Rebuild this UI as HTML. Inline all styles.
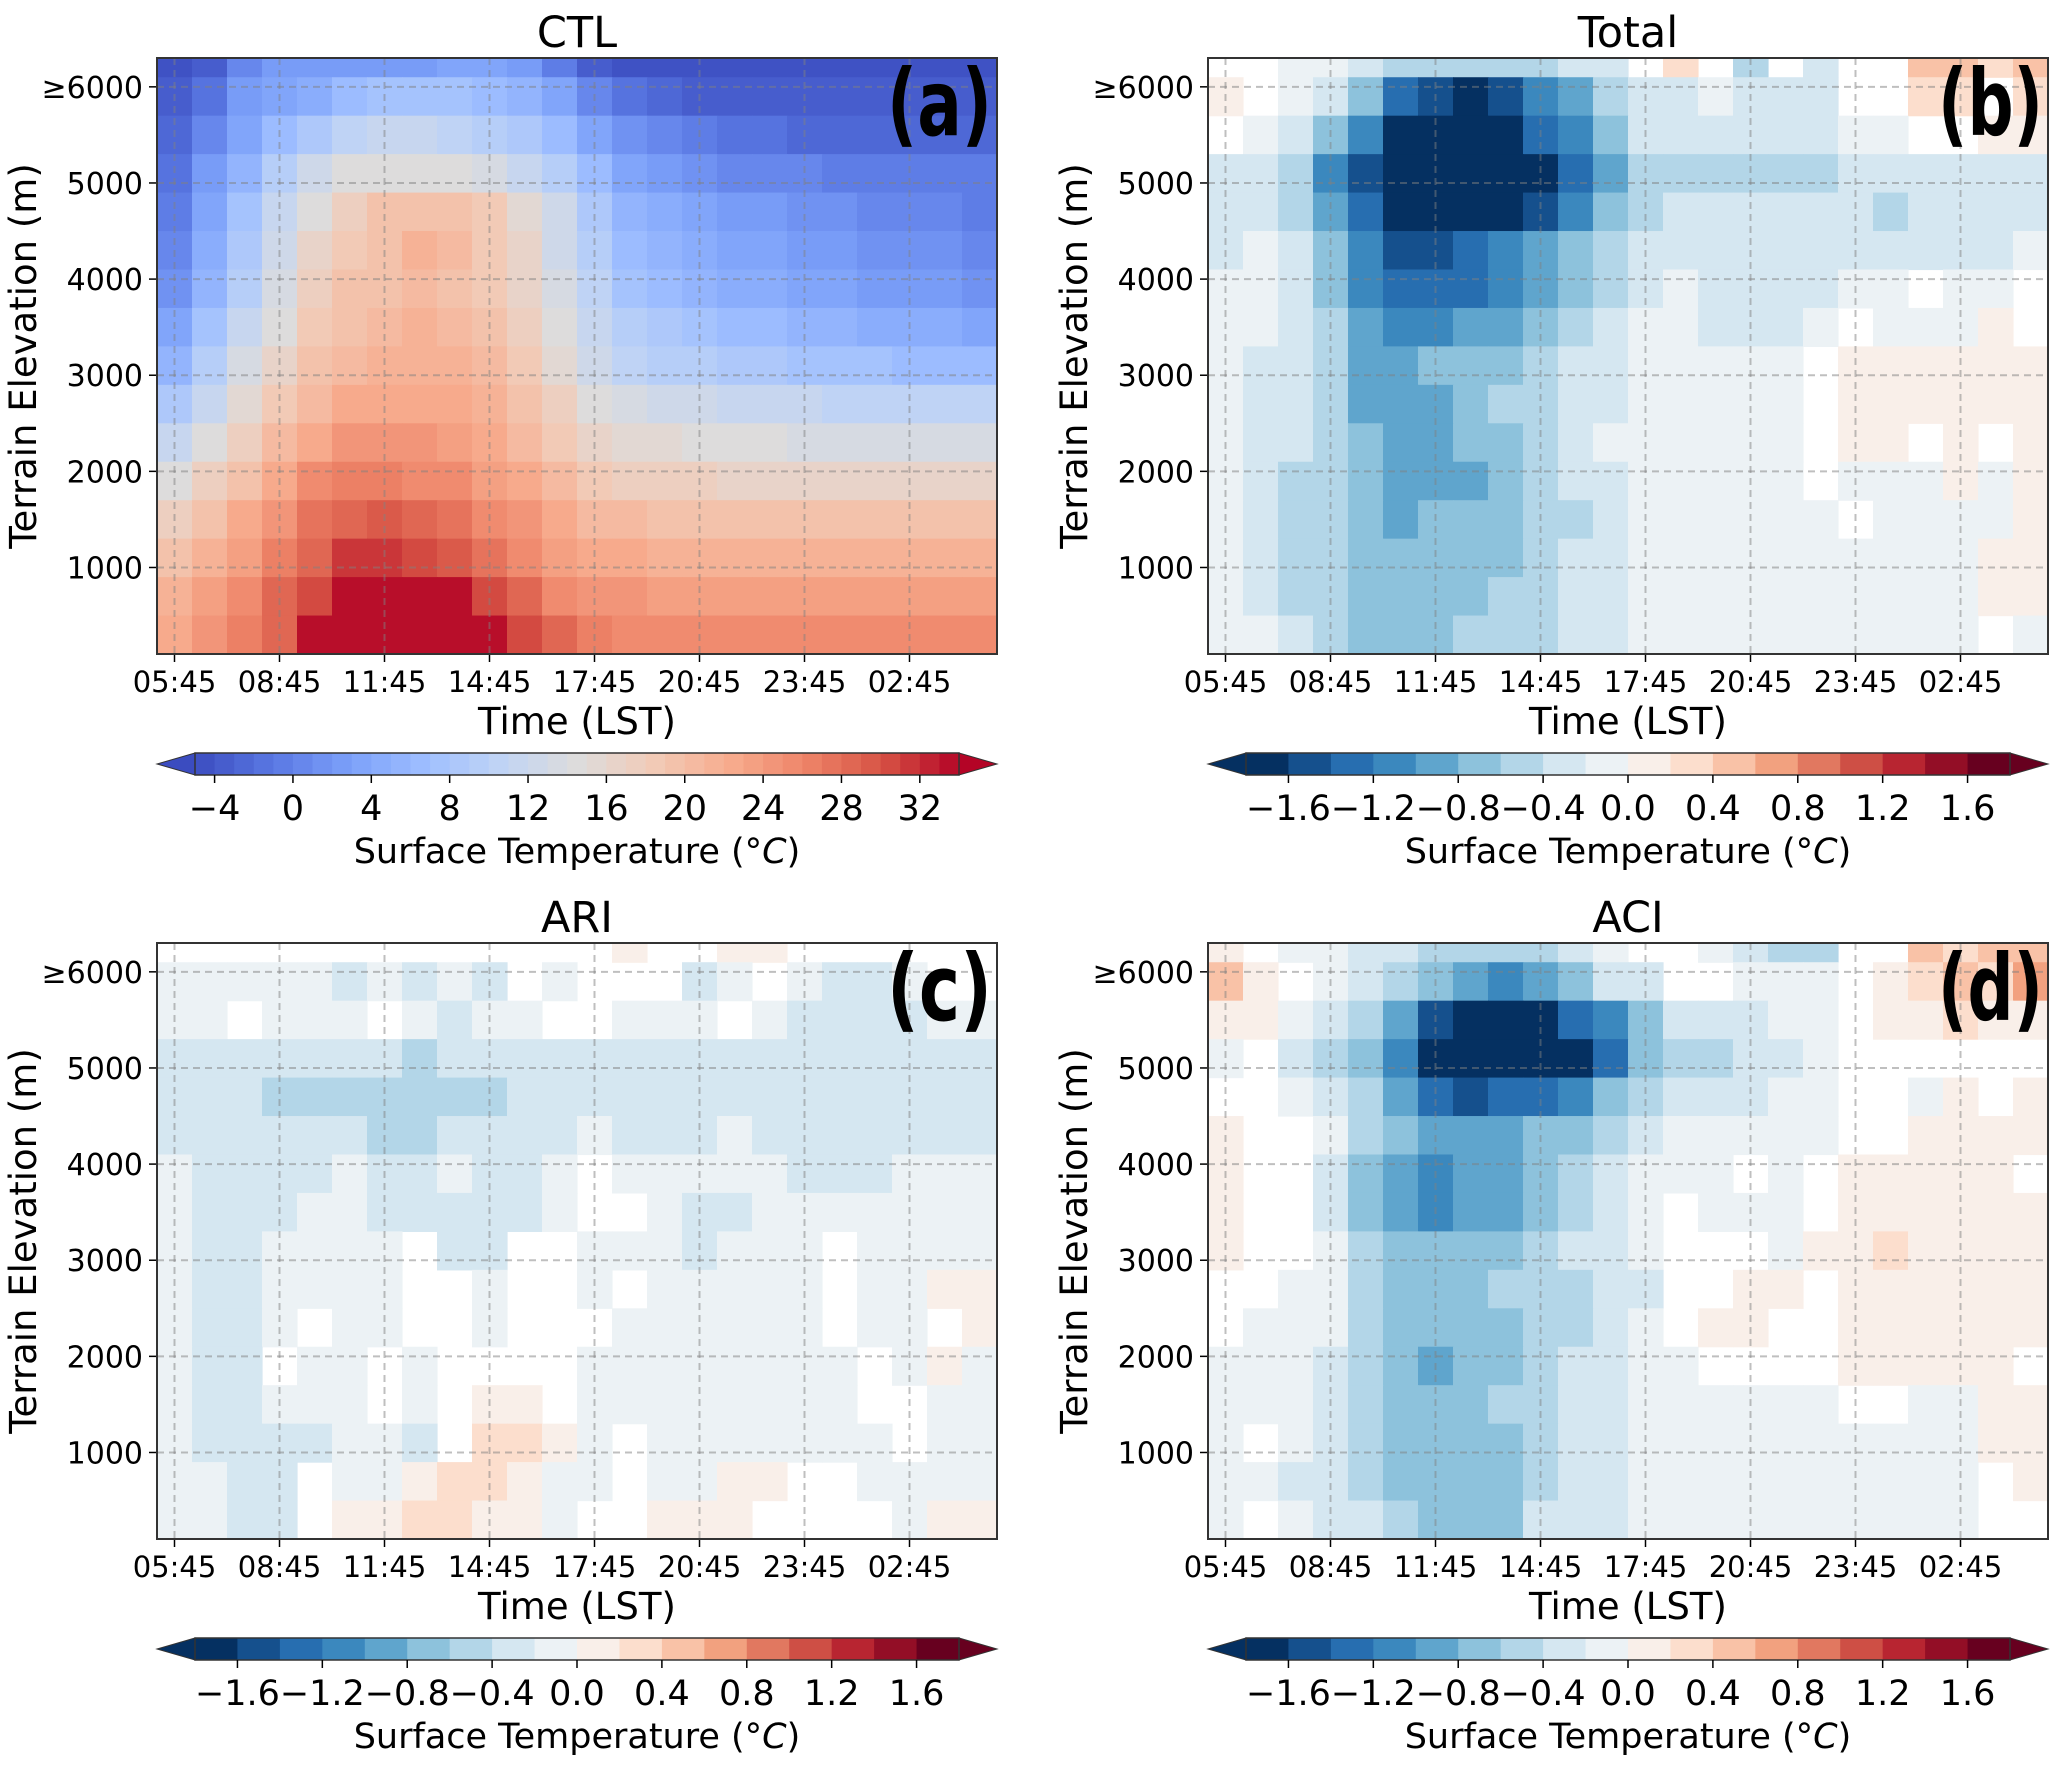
<!DOCTYPE html>
<html><head><meta charset="utf-8"><style>
html,body{margin:0;padding:0;background:#fff;}
svg{display:block;}
text{font-family:"DejaVu Sans","Liberation Sans",sans-serif;fill:#000;}
</style></head><body>
<svg id="fig" width="2067" height="1768" viewBox="0 0 2067 1768" xmlns="http://www.w3.org/2000/svg"></svg>
<script>
// ---------- data ----------
const timeLabels = ["05:45","08:45","11:45","14:45","17:45","20:45","23:45","02:45"];
const elevTicks = [1000,2000,3000,4000,5000,6000];
// row groups (top to bottom), centre elevations in m; each group spans 400 m (top one 200 m)
const rowCenters = [6200,5900,5500,5100,4700,4300,3900,3500,3100,2700,2300,1900,1500,1100,700,300];
// CTL surface temperature (°C), 24 hourly columns starting 05:45
const ctlRows = [
[-5,-4,0,2,2,2,2,2,3,3,2,-1,-4,-5,-5,-5,-5,-5,-5,-5,-5,-5,-5,-5],
[-4,-2,2,3,4,6,7,7,7,6,5,3,0,-2,-3,-4,-4,-4,-4,-4,-4,-4,-4,-4],
[-3,0,3,6,8,10,11,11,10,9,8,6,3,1,0,-1,-2,-2,-3,-3,-3,-3,-3,-3],
[-2,2,5,9,12,14,14,14,14,13,11,9,6,3,2,1,0,0,0,-1,-1,-1,-1,-1],
[-1,3,7,11,14,17,19,19,19,18,15,12,8,5,4,3,2,2,1,1,0,0,0,-1],
[0,4,8,12,16,18,19,21,20,18,16,12,9,6,5,4,3,3,2,2,1,1,1,0],
[1,5,9,13,17,19,19,20,19,18,16,13,10,7,6,5,4,4,3,3,2,2,2,1],
[3,7,11,14,18,19,20,21,20,19,17,14,11,9,8,7,6,6,5,5,4,4,4,3],
[5,9,13,16,19,20,21,21,21,20,18,15,12,10,9,9,8,8,7,7,7,6,6,6],
[8,11,15,18,20,22,22,22,22,21,19,17,14,13,12,12,11,11,11,10,10,10,10,10],
[11,14,17,20,22,24,24,24,23,22,20,18,16,15,15,14,14,14,13,13,13,13,13,13],
[14,17,19,22,25,26,26,25,25,23,22,20,18,17,17,17,16,16,16,16,16,16,16,16],
[17,19,22,24,27,28,29,28,27,25,24,22,20,20,19,19,19,19,19,19,19,19,19,19],
[19,21,23,26,28,31,31,30,29,27,25,23,22,22,21,21,21,21,21,21,21,21,21,21],
[21,23,25,28,30,34,34,34,33,30,28,25,24,24,23,23,23,23,23,23,23,23,23,23],
[22,24,26,28,34,34,34,34,34,33,30,28,26,25,25,25,25,25,25,25,25,25,25,25]
];
// difference fields: '.' = blank, '0'..'9' = -(0.1+0.2k) °C, 'a'..'i' = +(0.1+0.2k) °C
const totalRows = [
"..0012222211.b.2.1..ccbc",
"a.0136787542110111..bb.b",
".0135888865311111100..aa",
"112578888864222222111111",
"112468888753211111121111",
"101357765432111111111110",
"00135666543210111100.00.",
"001245544321001110.000a.",
"01124433321100000.aaaaaa",
"01124443221100000.aaaaaa",
"01123443321000000.aa.a.a",
"01223444321100000.000a0a",
"012234333221000000.0000a",
"012233333211000000000 0aa".replace(' ',''),
"012233332211000000000 0aa".replace(' ',''),
"00123332221100000000 00.0".replace(' ','')
];
const ariRows = [
".............a..aa......",
"0000010101.0...10.0110..",
"00.000.0100..000.0111100",
"111111121111111111111111",
"111222222211111111111111",
"111111221111011101111111",
"011110110110.00000111000",
"011100111110..01100000 00.".replace(' ',''),
"0110000.11..0001000.0000",
"0110000..0..0.00000.00aa",
"0110.00..0...000000.00.a",
"011.00.0....00000000.0a0",
"011000.0.aa..00000000..00".replace('..00','.00'),
"01111001.bba0.0000000.00",
"0011.00abba00.00aa..0000",
"0011.aabbaa0..aaa....0aa"
];
const aciRows = [
"a.0011222210..0122..cbcc",
"ca.012345431 1..000.abcbd".replace(' ',''),
"aa012478886531110 0.aabaa".replace(' ',''),
"0.1235888886322110......",
"..0124676653211100..0a.a",
"a..0234443321000 00..aaaa".replace(' ',''),
"a..13454432100 0.0.aaaaa.".replace(' ',''),
"a..134544321 0.000.aaaaaa".replace(' ',''),
"a..0233332110...0aabaaaa",
"..0023332221 1..aa.aaaaaa".replace(' ',''),
".000233332210.aa..aaaaaa",
"00012343321100....aaaaa.",
"000123332211000000..00aa",
"0.0123333211000000000 0aa".replace(' ',''),
"0011233332110000000000.a",
"0.011233311100000000 00..".replace(' ','')
];
const ctlTicks = [-4,0,4,8,12,16,20,24,28,32];
const diffTicks = [-1.6,-1.2,-0.8,-0.4,0.0,0.4,0.8,1.2,1.6];

// ---------- helpers ----------
const NS="http://www.w3.org/2000/svg";
const svg=document.getElementById('fig');
function mk(tag,attrs,parent){const e=document.createElementNS(NS,tag);for(const k in attrs)e.setAttribute(k,attrs[k]);(parent||svg).appendChild(e);return e;}
function hex(h){return [parseInt(h.slice(1,3),16),parseInt(h.slice(3,5),16),parseInt(h.slice(5,7),16)];}
function interp(stops,t){t=Math.max(0,Math.min(1,t));const n=stops.length-1;const p=t*n;const i=Math.min(n-1,Math.floor(p));const f=p-i;const a=hex(stops[i]),b=hex(stops[i+1]);return 'rgb('+a.map((v,j)=>Math.round(v+(b[j]-v)*f)).join(',')+')';}
const coolwarm=["#3b4cc0","#5977e3","#7b9ff9","#9ebeff","#c0d4f5","#dddcdc","#f2cbb7","#f7ac8e","#ee8468","#d65244","#b40426"];
const rdbuR=["#053061","#2166ac","#4393c3","#92c5de","#d1e5f0","#f7f7f7","#fddbc7","#f4a582","#d6604d","#b2182b","#67001f"];
function ctlColor(v){const k=Math.max(0,Math.min(38,Math.floor(v+5)));return interp(coolwarm,(k+0.5)/39);}
function diffColor(v){const k=Math.max(0,Math.min(17,Math.floor((v+1.8)/0.2+1e-9)));return interp(rdbuR,k/17);}
function decode(ch){if(ch===undefined||ch==='.'||ch===' ')return null;const d='0123456789'.indexOf(ch);if(d>=0)return -(0.1+0.2*d);const p='abcdefghi'.indexOf(ch);if(p<0)return null;return 0.1+0.2*p;}
function fmt(v){const s=Math.abs(v).toFixed(1);return (v<0?'\u2212':'')+s;}

const W=840,H=596,NC=24;
function panel(opts){
  const L=opts.x,T=opts.y;
  const g=mk('g',{});
  
  
  const xs=c=>L+c*W/NC;
  const ys=e=>T+(6300-e)/6200*H;
  const cg=mk('g',{},g);
  
  
  opts.rows.forEach((row,r)=>{
    const ec=rowCenters[r];
    const top=ec===6200?6300:ec+200, bot=ec===6200?6100:ec-200;
    for(let c=0;c<NC;c++){
      let v;
      if(typeof row==='string'){v=decode(row[c]);} else v=row[c];
      if(v===null||v===undefined)continue;
      const col=opts.ctl?ctlColor(v):diffColor(v);
      const rc=mk('rect',{x:xs(c).toFixed(2),y:ys(top).toFixed(2),width:(W/NC+0.6).toFixed(2),height:(ys(bot)-ys(top)+0.6).toFixed(2),fill:col},cg);
      
      
    }
  });
  timeLabels.forEach((lab,i)=>{const x=xs(0.5+3*i);
    const gl=mk('line',{x1:x,x2:x,y1:T,y2:T+H,stroke:'rgba(128,128,128,0.5)','stroke-width':2,'stroke-dasharray':'7,5'},g);
    
    mk('line',{x1:x,x2:x,y1:T+H,y2:T+H+8,stroke:'#000','stroke-width':1.5},g);
    const t=mk('text',{x:x,y:T+H+38,'font-size':29,'text-anchor':'middle'},g);t.textContent=lab;
    
  });
  elevTicks.forEach(e=>{const y=ys(e);
    const gl=mk('line',{x1:L,x2:L+W,y1:y,y2:y,stroke:'rgba(128,128,128,0.5)','stroke-width':2,'stroke-dasharray':'7,5'},g);
    
    mk('line',{x1:L-8,x2:L,y1:y,y2:y,stroke:'#000','stroke-width':1.5},g);
    const t=mk('text',{x:L-14,y:y+11,'font-size':30,'text-anchor':'end'},g);t.textContent=(e===6000?'\u2265':'')+e;
    
  });
  mk('rect',{x:L,y:T,width:W,height:H,fill:'none',stroke:'#333','stroke-width':2},g);
  const ti=mk('text',{x:L+W/2,y:T-11,'font-size':43,'text-anchor':'middle'},g);ti.textContent=opts.title;
  
  const lt=mk('text',{x:L+W-110,y:T+77,'font-size':92,'font-weight':'bold',textLength:105,lengthAdjust:'spacingAndGlyphs'},g);lt.textContent=opts.letter;
  
  const xl=mk('text',{x:L+W/2,y:T+H+80,'font-size':37,'text-anchor':'middle'},g);xl.textContent='Time (LST)';
  
  const yx=L-121,yy=T+H/2;
  const yl=mk('text',{x:yx,y:yy,'font-size':37,'text-anchor':'middle',transform:'rotate(-90 '+yx+' '+yy+')'},g);yl.textContent='Terrain Elevation (m)';
  
  const cb=mk('g',{},g);
  
  
  const cy=T+H+99,ch=22,tri=38,r0=L+tri,r1=L+W-tri;
  let vmin,vmax,nb,colorOf,ticks;
  if(opts.ctl){vmin=-5;vmax=34;nb=39;colorOf=k=>interp(coolwarm,(k+0.5)/39);ticks=ctlTicks;}
  else{vmin=-1.8;vmax=1.8;nb=18;colorOf=k=>interp(rdbuR,k/17);ticks=diffTicks;}
  const bw=(r1-r0)/nb;
  for(let k=0;k<nb;k++){mk('rect',{x:(r0+k*bw).toFixed(2),y:cy,width:(bw+0.5).toFixed(2),height:ch,fill:colorOf(k)},cb);}
  mk('polygon',{points:`${r0},${cy} ${L},${cy+ch/2} ${r0},${cy+ch}`,fill:opts.ctl?interp(coolwarm,0):interp(rdbuR,0),stroke:'#333','stroke-width':1},cb);
  mk('polygon',{points:`${r1},${cy} ${L+W},${cy+ch/2} ${r1},${cy+ch}`,fill:opts.ctl?interp(coolwarm,1):interp(rdbuR,1),stroke:'#333','stroke-width':1},cb);
  mk('rect',{x:r0,y:cy,width:r1-r0,height:ch,fill:'none',stroke:'#333','stroke-width':1.5},cb);
  ticks.forEach(v=>{const x=r0+(v-vmin)/(vmax-vmin)*(r1-r0);
    mk('line',{x1:x,x2:x,y1:cy+ch,y2:cy+ch+8,stroke:'#000','stroke-width':1.5},cb);
    const t=mk('text',{x:x,y:cy+ch+45,'font-size':35,'text-anchor':'middle'},cb);t.textContent=opts.ctl?(v<0?'\u2212'+Math.abs(v):String(v)):fmt(v);
    
  });
  const cl=mk('text',{x:L+W/2,y:cy+ch+88,'font-size':35,'text-anchor':'middle'},cb);
  cl.innerHTML='Surface Temperature (\u00b0<tspan font-style="italic">C</tspan>)';
  
}
panel({name:'ctl',x:157,y:58,rows:ctlRows,ctl:true,title:'CTL',letter:'(a)'});
panel({name:'total',x:1208,y:58,rows:totalRows,ctl:false,title:'Total',letter:'(b)'});
panel({name:'ari',x:157,y:943,rows:ariRows,ctl:false,title:'ARI',letter:'(c)'});
panel({name:'aci',x:1208,y:943,rows:aciRows,ctl:false,title:'ACI',letter:'(d)'});
</script>
</body></html>
